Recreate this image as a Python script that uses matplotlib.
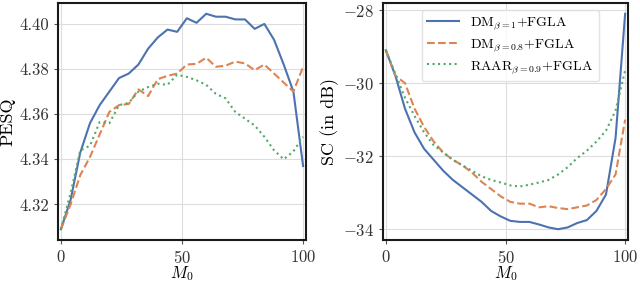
from matplotlib import pyplot as plt, rcParams

m0 = list(range(0, 101, 4))

pesq_dm1 = [4.309, 4.322, 4.343, 4.356, 4.364, 4.370, 4.376, 4.378, 4.382, 4.389,
            4.394, 4.3975, 4.3965, 4.4025, 4.4005, 4.4045, 4.4032, 4.4032, 4.402, 4.402,
            4.3978, 4.400, 4.393, 4.382, 4.370, 4.337]
pesq_dm08 = [4.309, 4.320, 4.333, 4.341, 4.351, 4.361, 4.364, 4.3645, 4.371, 4.368,
             4.3755, 4.377, 4.378, 4.382, 4.3823, 4.385, 4.381, 4.3815, 4.3833, 4.3825,
             4.3795, 4.382, 4.378, 4.374, 4.370, 4.381]
pesq_raar = [4.309, 4.325, 4.344, 4.346, 4.3565, 4.356, 4.364, 4.365, 4.370, 4.372,
             4.3735, 4.373, 4.3775, 4.3765, 4.375, 4.373, 4.369, 4.367, 4.361, 4.358,
             4.355, 4.350, 4.344, 4.340, 4.3435, 4.350]

sc_dm1 = [-29.1, -29.8, -30.7, -31.35, -31.8, -32.1, -32.4, -32.65, -32.85, -33.05,
          -33.25, -33.5, -33.65, -33.77, -33.8, -33.8, -33.87, -33.95, -34.0, -33.95,
          -33.83, -33.75, -33.5, -33.05, -31.5, -28.1]
sc_dm08 = [-29.1, -29.8, -30.0, -30.7, -31.2, -31.6, -31.9, -32.1, -32.25, -32.45,
           -32.7, -32.9, -33.1, -33.25, -33.3, -33.3, -33.4, -33.37, -33.42, -33.45,
           -33.4, -33.35, -33.2, -32.9, -32.5, -31.0]
sc_raar = [-29.1, -29.75, -30.4, -30.9, -31.35, -31.7, -31.9, -32.1, -32.25, -32.4,
           -32.55, -32.65, -32.72, -32.8, -32.83, -32.78, -32.72, -32.65, -32.5, -32.3,
           -32.05, -31.85, -31.6, -31.3, -30.75, -29.65]

labels = [r'DM$_{\beta=1}$+FGLA', r'DM$_{\beta=0.8}$+FGLA', r'RAAR$_{\beta=0.9}$+FGLA']
colors = ['#4C72B0', '#DD8452', '#55A868']
styles = ['-', '--', ':']

rcParams['font.family'] = 'serif'
rcParams['font.serif'] = ['cmr10']
rcParams['mathtext.fontset'] = 'cm'
rcParams['axes.formatter.use_mathtext'] = True
rcParams['font.size'] = 11

fig = plt.figure(figsize=(6.4, 2.85), dpi=100)
ax1 = fig.add_axes([58/640, 1 - 240/285, 248/640, 237/285])
ax2 = fig.add_axes([383/640, 1 - 240/285, 245/640, 237/285])

for ax, series, ylabel in [
    (ax1, [pesq_dm1, pesq_dm08, pesq_raar], 'PESQ'),
    (ax2, [sc_dm1, sc_dm08, sc_raar], 'SC (in dB)'),
]:
    for ys, c, ls, lab in zip(series, colors, styles, labels):
        ax.plot(m0, ys, color=c, linestyle=ls, linewidth=1.5, label=lab)
    ax.set_xlabel(r'$M_0$', fontsize=12, labelpad=-1)
    ax.set_ylabel(ylabel, fontsize=13, labelpad=3)
    ax.set_xticks([0, 50, 100])
    ax.margins(x=0.012)
    ax.grid(color='#dddddd', linewidth=0.8)
    ax.set_axisbelow(True)
    for s in ax.spines.values():
        s.set_linewidth(1.5)
        s.set_color('#1a1a1a')
    ax.tick_params(labelsize=12, length=3, width=0.8, color='#555555', labelcolor='#333333')

ax1.set_yticks([4.32, 4.34, 4.36, 4.38, 4.40])
ax1.yaxis.set_major_formatter(plt.FormatStrFormatter('%.2f'))
ax2.set_yticks([-34, -32, -30, -28])

ax2.legend(loc='upper left', bbox_to_anchor=(0.158, 0.97), fontsize=10,
           handlelength=2.3, labelspacing=0.35, borderaxespad=0,
           framealpha=0.8, edgecolor='#dddddd', fancybox=True)

fig.savefig('out.png', dpi=100)
